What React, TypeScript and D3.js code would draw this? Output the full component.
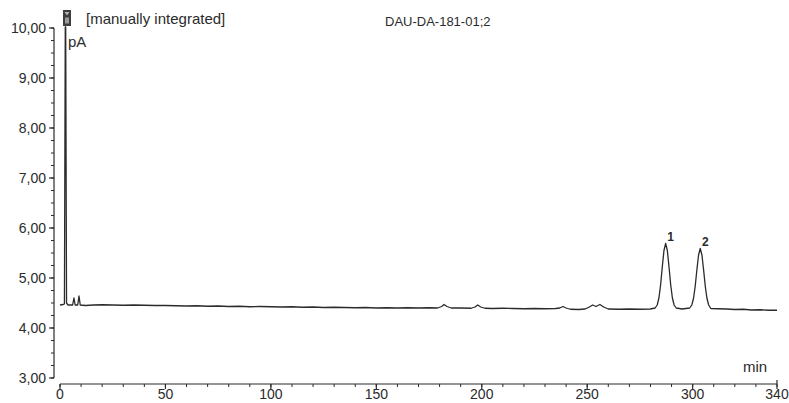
import React from 'react';
import * as d3 from 'd3';

// chromatogram trace (min, pA)
const retentionTimes = [
    0, 1.5, 2.1, 2.5, 2.7, 3.1, 3.8, 6.0, 6.6, 7.2, 8.4, 9.0, 9.6, 12, 16, 20, 25, 30, 35, 40, 45,
    50, 55, 60, 65, 70, 75, 80, 85, 90, 95, 100, 105, 110, 115, 120, 125, 130, 135, 140, 145,
    150, 155, 160, 165, 170, 175, 179, 181, 182.1, 183.5, 185.5, 190, 195, 196.8, 198.1, 199.5,
    201.5, 205, 210, 215, 220, 225, 230, 235, 237, 238.5, 240, 242, 246, 249, 251, 252.6, 254.2,
    256, 257.8, 260, 265, 270, 275, 280, 282.2, 283.2, 284, 284.8, 285.6, 286.4, 287.2, 288.0,
    288.8, 289.6, 290.4, 291.2, 292.2, 295, 298.6, 299.6, 300.4, 301.2, 302.0, 302.8, 303.6,
    304.4, 305.2, 306.0, 306.8, 307.6, 308.6, 312, 316, 320, 324, 328, 332, 336, 340,
];
const signalPA = [
    4.46, 4.47, 4.48, 10.02, 10.02, 4.5, 4.46, 4.46, 4.6, 4.46, 4.46, 4.64, 4.46, 4.45, 4.46, 4.465, 4.46, 4.455, 4.46, 4.455, 4.45,
    4.45, 4.445, 4.44, 4.445, 4.435, 4.44, 4.43, 4.435, 4.425, 4.43, 4.425, 4.42, 4.425, 4.415, 4.42, 4.41, 4.415, 4.41, 4.405, 4.41,
    4.4, 4.405, 4.4, 4.405, 4.4, 4.405, 4.4, 4.43, 4.47, 4.43, 4.4, 4.4, 4.395, 4.42, 4.46, 4.42,
    4.395, 4.39, 4.395, 4.39, 4.385, 4.39, 4.385, 4.39, 4.4, 4.43, 4.4, 4.375, 4.37, 4.38, 4.42, 4.46, 4.43,
    4.47, 4.42, 4.38, 4.375, 4.38, 4.375, 4.38, 4.4, 4.46, 4.6, 4.86, 5.22, 5.55, 5.69, 5.55,
    5.22, 4.86, 4.6, 4.46, 4.4, 4.38, 4.4, 4.46, 4.59, 4.83, 5.16, 5.46, 5.59,
    5.46, 5.16, 4.83, 4.59, 4.46, 4.39, 4.385, 4.38, 4.37, 4.375, 4.36, 4.365, 4.355, 4.355,
];

const peakLabels = ['1', '2'];
const peakTimes = [287.2, 303.6];
const peakApex = [5.69, 5.59];

const yTickValues = [3, 4, 5, 6, 7, 8, 9, 10];
const xTickLabels = [0, 50, 100, 150, 200, 250, 300, 340];

const W = 789;
const H = 403;
const FONT = '"Liberation Sans", Arial, sans-serif';
const INK = '#2b2b2b';

const App: React.FC = () => {
    const x = d3.scaleLinear().domain([0, 340]).range([60, 777]);
    const y = d3.scaleLinear().domain([3, 10]).range([378, 28]);

    const points: [number, number][] = retentionTimes.map((t, i) => [t, signalPA[i]]);
    const line = d3.line<[number, number]>()
        .x(d => x(d[0]))
        .y(d => y(d[1]));

    const yMinor = d3.range(3, 10.001, 0.25);
    const xMinor = d3.range(0, 340.001, 10);
    const fmt = (v: number) => v.toFixed(2).replace('.', ',');

    const axisX = 54;
    const baseY = 384;

    return (
        <svg width={W} height={H} style={{ position: 'absolute', left: 0, top: 0, background: '#fff' }}>
            {/* y axis */}
            <line x1={axisX} x2={axisX} y1={y(10)} y2={y(3)} stroke={INK} strokeWidth={1.2} />
            {yMinor.map(v => (
                <line key={'ym' + v} x1={axisX - 3} x2={axisX} y1={y(v)} y2={y(v)} stroke={INK} strokeWidth={1} />
            ))}
            {yTickValues.map(v => (
                <g key={'y' + v}>
                    <line x1={axisX - 5} x2={axisX} y1={y(v)} y2={y(v)} stroke={INK} strokeWidth={1.2} />
                    <text x={46} y={y(v) + 5} textAnchor="end" fontFamily={FONT} fontSize={14} fill={INK}>
                        {fmt(v)}
                    </text>
                </g>
            ))}

            {/* x axis */}
            <line x1={x(0)} x2={x(340)} y1={baseY} y2={baseY} stroke={INK} strokeWidth={1.2} />
            {xMinor.map(t => (
                <line key={'xm' + t} x1={x(t)} x2={x(t)} y1={baseY} y2={baseY + 3} stroke={INK} strokeWidth={1} />
            ))}
            {xTickLabels.map(t => (
                <g key={'x' + t}>
                    <line x1={x(t)} x2={x(t)} y1={t === 340 ? baseY - 4 : baseY} y2={baseY + 5} stroke={INK} strokeWidth={1.2} />
                    <text x={x(t)} y={399} textAnchor="middle" fontFamily={FONT} fontSize={14} fill={INK}>
                        {t}
                    </text>
                </g>
            ))}

            {/* trace */}
            <path d={line(points) || ''} fill="none" stroke={INK} strokeWidth={1.3} strokeLinejoin="round" />

            {peakLabels.map((lbl, i) => (
                <text key={lbl} x={x(peakTimes[i]) + 5} y={y(peakApex[i]) - 3} textAnchor="middle"
                    fontFamily={FONT} fontSize={12} fontWeight="bold" fill={INK}>
                    {lbl}
                </text>
            ))}

            {/* header */}
            <rect x={63} y={10} width={8} height={16} fill="#3d3d3d" />
            <path d="M64.5,12 L69.5,12 L67,15.5 Z" fill="#b5b5b5" />
            <rect x={65} y={17.5} width={4} height={6} fill="#9a9a9a" />
            <text x={86} y={24} fontFamily={FONT} fontSize={15} fill={INK}>[manually integrated]</text>
            <text x={385} y={26} fontFamily={FONT} fontSize={13} fill={INK}>DAU-DA-181-01;2</text>
            <text x={68} y={47} fontFamily={FONT} fontSize={15} fill={INK}>pA</text>
            <text x={743} y={372} fontFamily={FONT} fontSize={15} fill={INK}>min</text>
        </svg>
    );
};

export default App;
